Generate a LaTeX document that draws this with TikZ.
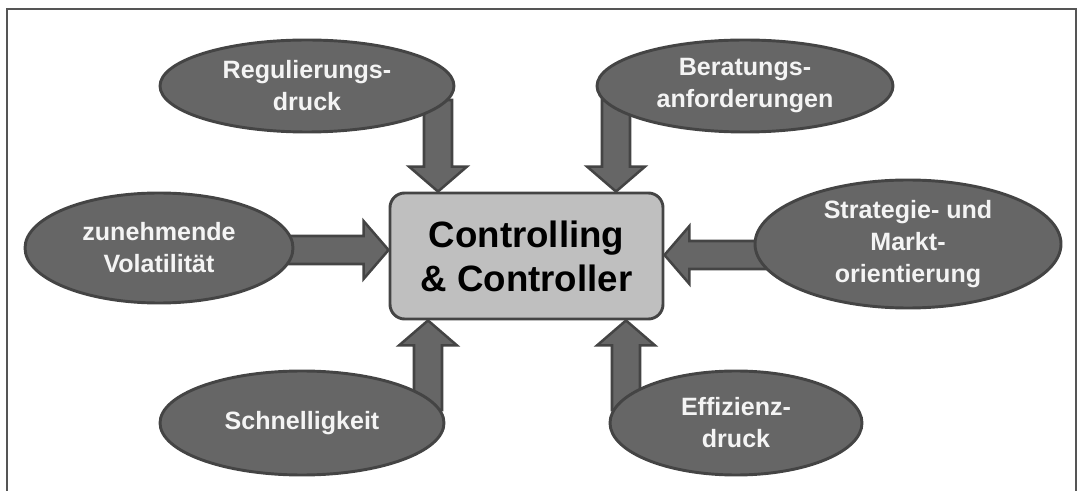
\documentclass[tikz,border=0pt]{standalone}
\usepackage{fontspec}
\setmainfont{Liberation Sans}
\usetikzlibrary{shapes.geometric,calc}
\pgfdeclarelayer{background}
\pgfsetlayers{background,main}
\definecolor{ellfill}{HTML}{666666}
\definecolor{ellline}{HTML}{444444}
\definecolor{boxfill}{HTML}{BFBFBF}
\definecolor{frameline}{HTML}{555555}
\definecolor{txtwhite}{HTML}{F4F4F4}
\tikzset{
  ell/.style={ellipse, draw=ellline, fill=ellfill, line width=2.2pt, inner sep=0pt,
    text=txtwhite, align=center,
    font=\fontsize{18.8pt}{24pt}\selectfont\bfseries},
  centerbox/.style={rounded corners=11pt, draw=ellline, fill=boxfill, line width=2.2pt,
    minimum width=204.75pt, minimum height=94.5pt, align=center,
    font=\fontsize{27.5pt}{33pt}\selectfont\bfseries},
  blockarrow/.style={draw=ellline, fill=ellfill, line width=1.9pt, line join=miter}
}
\newcommand\blockarr[2]{%
  \coordinate (hb) at ($(#2)!18.75pt!(#1)$);
  \draw[blockarrow] ($(#1)!10.5pt!90:(#2)$) -- ($(hb)!10.5pt!-90:(#1)$)
    -- ($(hb)!21.75pt!-90:(#1)$) -- (#2) -- ($(hb)!21.75pt!90:(#1)$)
    -- ($(hb)!10.5pt!90:(#1)$) -- ($(#1)!10.5pt!-90:(#2)$) -- cycle;}
\begin{document}
\begin{tikzpicture}[x=0.75pt,y=-0.75pt]
\useasboundingbox (0,0) rectangle (1082,491);
\draw[frameline, line width=1.6pt] (7,491) -- (7,9) -- (1076,9) -- (1076,491);

\node[centerbox] (ctrl) at (526.5,256) {Controlling\\\& Controller};

\node[ell, minimum width=220.5pt, minimum height=69pt] (reg) at (307,86) {Regulierungs-\\druck};
\node[ell, minimum width=222pt, minimum height=69pt] (ber) at (745,86) {Beratungs-\\anforderungen};
\node[ell, minimum width=201pt, minimum height=82.5pt] (zun) at (159,248) {zunehmende\\Volatilität};
\node[ell, minimum width=229.5pt, minimum height=96pt] (str) at (908,244) {Strategie- und\\Markt-\\orientierung};
\node[ell, minimum width=213pt, minimum height=78pt] (sch) at (302,423) {Schnelligkeit};
\node[ell, minimum width=189pt, minimum height=78pt] (eff) at (736,423) {Effizienz-\\druck};

\coordinate (s1) at (438,100);
\coordinate (s2) at (616,100);
\coordinate (s3) at (280,250);
\coordinate (s4) at (770,255);
\coordinate (s5) at (428,410);
\coordinate (s6) at (626,410);
\coordinate (t1) at (ctrl.north -| s1);
\coordinate (t2) at (ctrl.north -| s2);
\coordinate (t3) at (ctrl.west |- s3);
\coordinate (t4) at (ctrl.east |- s4);
\coordinate (t5) at (ctrl.south -| s5);
\coordinate (t6) at (ctrl.south -| s6);

\begin{pgfonlayer}{background}
\blockarr{s1}{t1}
\blockarr{s2}{t2}
\blockarr{s3}{t3}
\blockarr{s4}{t4}
\blockarr{s5}{t5}
\blockarr{s6}{t6}
\end{pgfonlayer}
\end{tikzpicture}
\end{document}
